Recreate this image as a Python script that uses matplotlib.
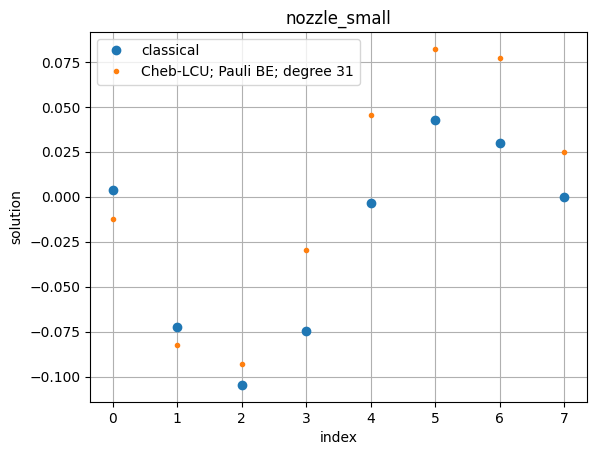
import matplotlib
matplotlib.use("Agg")
import matplotlib.pyplot as plt

# datos
indices = [0, 1, 2, 3, 4, 5, 6, 7]
classical = [0.0039, -0.0724, -0.1048, -0.0747, -0.0033, 0.0429, 0.0301, 0.0000]
cheb_lcu = [-0.0123, -0.0825, -0.0931, -0.0295, 0.0457, 0.0825, 0.0775, 0.0251]

fig, ax = plt.subplots(figsize=(5.96, 4.55), dpi=100)
fig.subplots_adjust(left=0.151, right=0.985, bottom=0.1165, top=0.930)

ax.plot(indices, classical, "o", label="classical")
ax.plot(indices, cheb_lcu, ".", markersize=6, label="Cheb-LCU; Pauli BE; degree 31")
ax.set_title("nozzle_small")
ax.set_xlabel("index")
ax.set_ylabel("solution")
ax.grid(True)
ax.legend(loc="upper left")

fig.savefig("out.png")
